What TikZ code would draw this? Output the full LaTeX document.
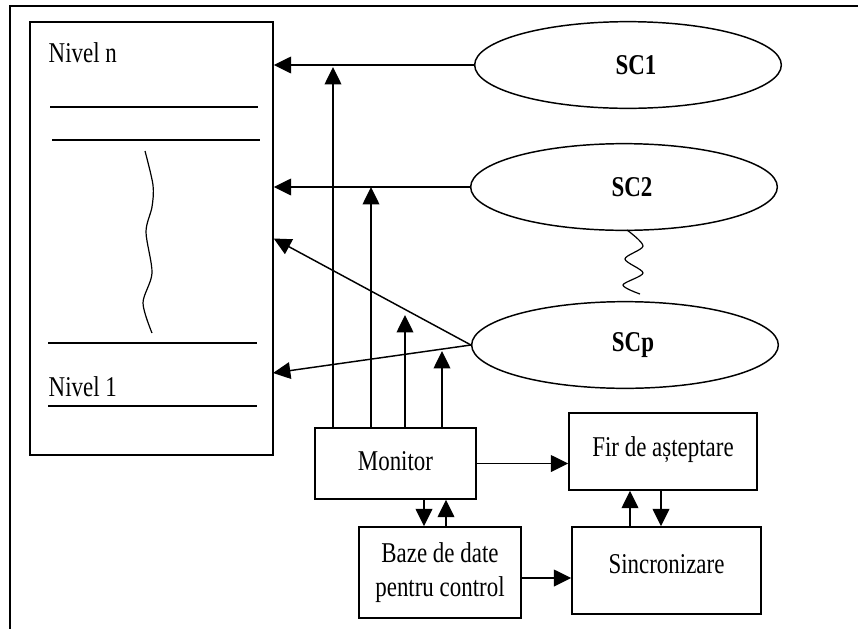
\documentclass[tikz,border=0pt]{standalone}
\usepackage{fontspec}
\setmainfont{Liberation Serif}[FakeStretch=0.8]
\usetikzlibrary{arrows.meta,shapes.geometric}
\newcommand\dgfont{\fontsize{21.5}{26}\selectfont}
\begin{document}
\begin{tikzpicture}[x=0.75pt,y=-0.75pt,
  line width=1.1pt,
  font=\dgfont,
  arr/.style={-{Triangle[length=13pt,width=12.5pt]}},
  box/.style={draw,rectangle,inner sep=0pt},
  sc/.style={draw,ellipse,minimum width=230pt,minimum height=65pt,inner sep=0pt,font=\dgfont\bfseries},
  txt/.style={inner sep=0pt,anchor=base west}]
\useasboundingbox (0,0) rectangle (858,629);
% outer frame
\draw[line width=1.6pt] (10,632) -- (10,6) -- (860,6);
% levels box
\node[box,minimum width=182.25pt,minimum height=324.75pt] (lev) at (151.5,238.5) {};
\node[txt] (nn) at (48,62) {Nivel n};
\node[txt] (n1) at (48,396) {Nivel 1};
\draw (50,107) -- (258,107);
\draw (52,140) -- (260,140);
\draw (48,343) -- (257,343);
\draw (48,406) -- (257,406);
\draw[line width=0.9pt] plot[smooth] coordinates {(145,151) (153,185) (152,207) (146,232) (152,273) (143,303) (152,333)};
% ellipses
\node[sc] (sc1) at (628,65) {\hspace*{12pt}SC1};
\node[sc] (sc2) at (624,187) {\hspace*{12pt}SC2};
\node[sc] (scp) at (625,345) {\hspace*{12pt}SCp};
\draw[line width=0.9pt] plot[smooth] coordinates {(627,230) (643,246) (625,259) (643,273) (623,285) (640,294)};
% boxes
\node[box,minimum width=120.75pt,minimum height=53.25pt] (mon) at (395.5,463.5) {\raisebox{4pt}{Monitor}};
\node[box,minimum width=141pt,minimum height=57.75pt] (fir) at (663,451.5) {\raisebox{7pt}{Fir de așteptare}};
\node[box,minimum width=141.75pt,minimum height=65.25pt] (sinc) at (666.5,570.5) {\raisebox{10pt}{Sincronizare}};
\node[box,minimum width=121.5pt,minimum height=68.25pt,align=center] (baze) at (440,572.5) {Baze de date\\pentru control};
% arrows from SC to levels
\draw[arr] (sc1.west) -- (sc1.west -| lev.east);
\draw[arr] (sc2.west) -- (sc2.west -| lev.east);
\draw[arr] (scp.west) -- (lev.east);
\coordinate (t2) at (273,373);
\draw[arr] (scp.west) -- (t2);
% monitor arrows up
\coordinate (u1) at (333,67);
\coordinate (u2) at (371,187);
\coordinate (u3) at (405,315);
\coordinate (u4) at (442,351);
\draw[arr] (u1 |- mon.north) -- (u1);
\draw[arr] (u2 |- mon.north) -- (u2);
\draw[arr] (u3 |- mon.north) -- (u3);
\draw[arr] (u4 |- mon.north) -- (u4);
% lower arrows
\draw[arr] (mon.east) -- (mon.east -| fir.west);
\coordinate (b1) at (521,578);
\draw[arr] (b1) -- (b1 -| sinc.west);
\coordinate (d1) at (424,0);
\coordinate (d2) at (446,0);
\draw[arr] (d1 |- mon.south) -- (d1 |- baze.north);
\draw[arr] (d2 |- baze.north) -- (d2 |- mon.south);
\coordinate (e1) at (630,0);
\coordinate (e2) at (661,0);
\draw[arr] (e1 |- sinc.north) -- (e1 |- fir.south);
\draw[arr] (e2 |- fir.south) -- (e2 |- sinc.north);
\end{tikzpicture}
\end{document}
